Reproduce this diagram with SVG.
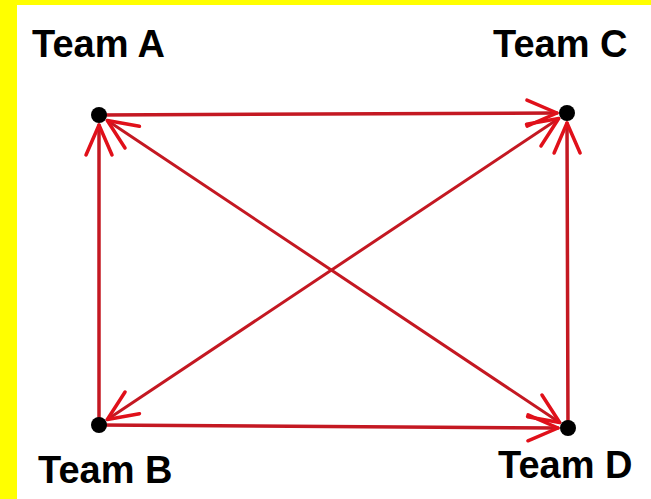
<svg xmlns="http://www.w3.org/2000/svg" width="651" height="499" viewBox="0 0 651 499">
<style>
.lbl{font-family:"Liberation Sans",Arial,sans-serif;font-weight:bold;font-size:38px;fill:#000}
.e{stroke:#c41822;stroke-width:3.5;fill:none;stroke-linecap:round}
.d{stroke-width:3}
.dot{fill:#000}
</style>
<defs>
<marker id="ah" markerUnits="userSpaceOnUse" markerWidth="40" markerHeight="40" viewBox="-36 -20 40 40" refX="0" refY="0" orient="auto-start-reverse">
<path d="M-30,-13 L0,0 L-30,13" fill="none" stroke="#e0101a" stroke-width="3.5" stroke-linecap="round" stroke-linejoin="round"/>
</marker>
</defs>
<rect x="0" y="0" width="651" height="499" fill="#ffff00"/>
<rect x="17" y="5" width="634" height="494" fill="#ffffff"/>
<g id="connectors">
<line class="e" x1="99" y1="115" x2="557" y2="113" marker-end="url(#ah)"/>
<line class="e" x1="99" y1="425" x2="99" y2="125" marker-end="url(#ah)"/>
<line class="e" x1="568" y1="428" x2="567" y2="123" marker-end="url(#ah)"/>
<line class="e" x1="99" y1="425" x2="558" y2="428" marker-end="url(#ah)"/>
<line class="e d" x1="107.3" y1="120.5" x2="559.7" y2="422.5" marker-start="url(#ah)" marker-end="url(#ah)"/>
<line class="e d" x1="107.3" y1="419.5" x2="558.7" y2="118.5" marker-start="url(#ah)" marker-end="url(#ah)"/>
</g>
<g id="teamA"><circle class="dot" cx="99" cy="115" r="8"/><text class="lbl" x="32" y="57">Team A</text></g>
<g id="teamC"><circle class="dot" cx="567" cy="113" r="8"/><text class="lbl" x="493" y="57">Team C</text></g>
<g id="teamB"><circle class="dot" cx="99" cy="425" r="8"/><text class="lbl" x="38" y="483">Team B</text></g>
<g id="teamD"><circle class="dot" cx="568" cy="428" r="8"/><text class="lbl" x="498" y="478">Team D</text></g>
</svg>
